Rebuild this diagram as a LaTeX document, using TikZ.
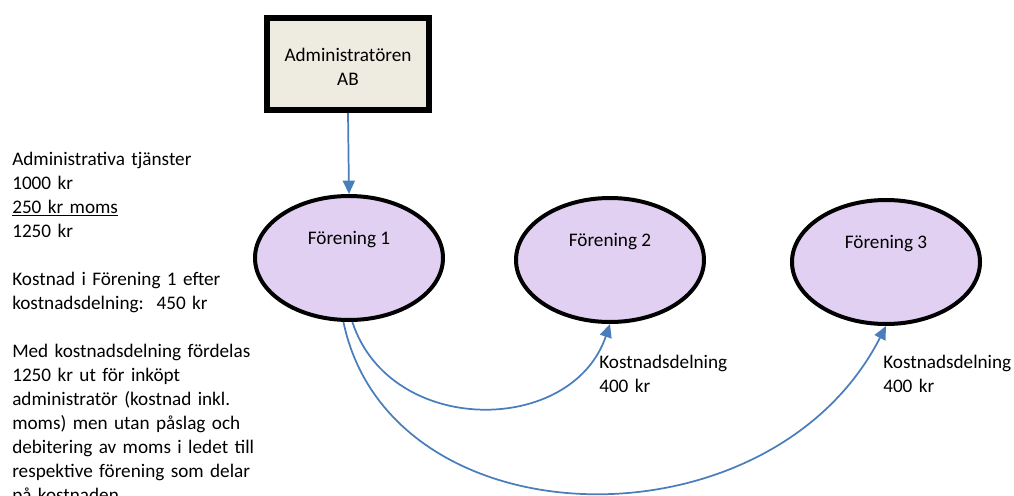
\documentclass[tikz,border=0pt]{standalone}
\usepackage{fontspec}
\setmainfont{Carlito}
\usepackage{tikz}
\usetikzlibrary{positioning}
\usetikzlibrary{arrows.meta,shapes}
\usetikzlibrary{calc}
\definecolor{linkblue}{RGB}{74,126,187}
\definecolor{boxfill}{RGB}{238,236,225}
\definecolor{clubfill}{RGB}{226,208,242}
\tikzstyle{adminbox}=[rectangle,draw=black,fill=boxfill,line width=4.5pt,minimum width=122pt,minimum height=69pt,inner sep=0pt]
\tikzstyle{club}=[ellipse,draw=black,fill=clubfill,line width=3pt,minimum width=141pt,minimum height=93pt,inner sep=0pt]
\tikzstyle{link} = [draw,line width=1.3pt,linkblue,-{Triangle[length=10pt,width=9pt]}]
\tikzstyle{note} = [anchor=base west,align=left,text width=190pt,inner sep=0pt]

\begin{document}
\begin{tikzpicture}[auto,swap,font=\fontsize{14.4}{18}\selectfont]

  \def\u{0.75pt};

  \useasboundingbox (0,0) rectangle (1014*\u, -496*\u);

   \node[adminbox, label={[align=center,yshift=-2.5pt]center:Administratören\\AB}] (admin) at (348*\u, -64*\u) {};

   \foreach \x/\y/\name/\label in { 349/258/F1/{Förening 1}, 610/260/F2/{Förening 2}, 886/262/F3/{Förening 3} }
          \node[club, label={[yshift=13.5pt]center:\label}] (\name) at (\x*\u, -\y*\u) {};

   \draw[link] (admin.south) -- (F1.north);

   \draw[link] (F1.-87) .. controls (390*\u, -437*\u) and (572*\u, -436*\u) .. (F2.south);
   \draw[link] (F1.-95) .. controls (390*\u, -545*\u) and (770*\u, -553*\u) .. (F3.south);

   \foreach \x/\y/\name in { 599/368/cost2, 883/368/cost3 }
          \node[note] (\name) at (\x*\u, -\y*\u) {Kostnadsdelning\\400 kr};

   \node[note] (info) at (12*\u, -165*\u) {Administrativa tjänster\\
     1000 kr\\
     \underline{250 kr moms}\\
     1250 kr\\[18pt]
     Kostnad i Förening 1 efter\\
     kostnadsdelning:\ \ 450 kr\\[18pt]
     Med kostnadsdelning fördelas\\
     1250 kr ut för inköpt\\
     administratör (kostnad inkl.\\
     moms) men utan påslag och\\
     debitering av moms i ledet till\\
     respektive förening som delar\\
     på kostnaden};

   \end{tikzpicture}
\end{document}
